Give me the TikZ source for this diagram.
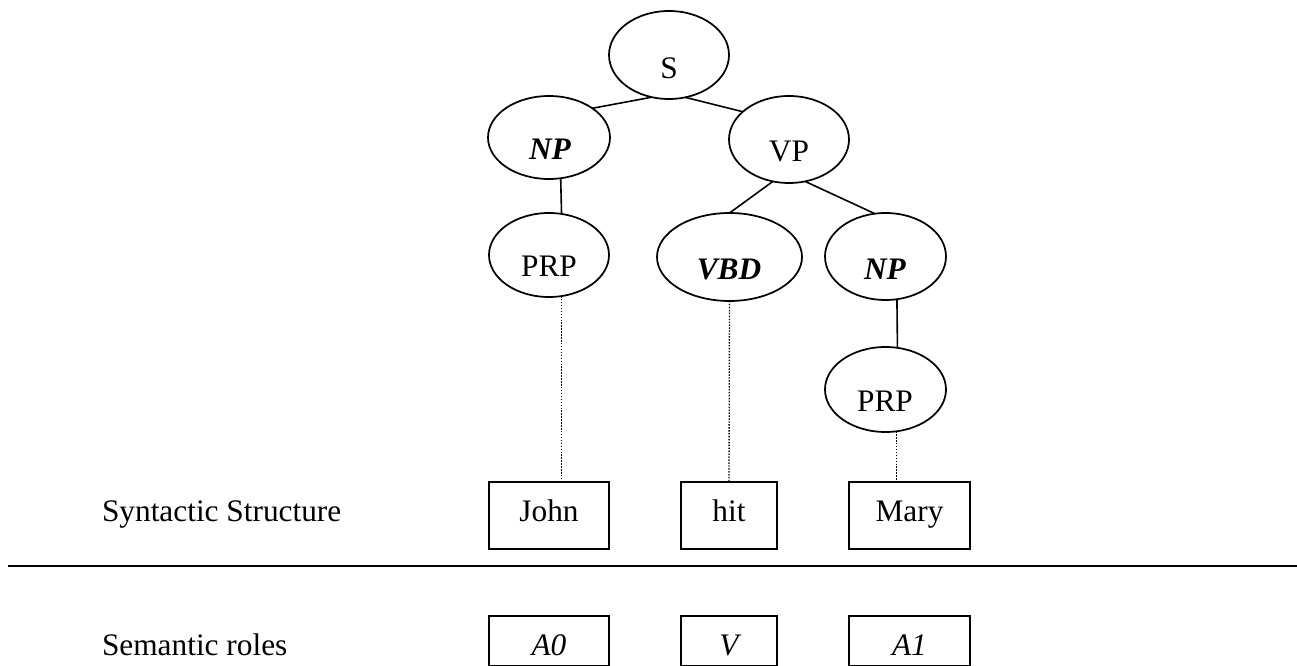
\documentclass[tikz,border=0pt]{standalone}
\usepackage{fontspec}
\setmainfont{Liberation Serif}
\usetikzlibrary{shapes.geometric}
\begin{document}
\begin{tikzpicture}[x=0.75pt,y=-0.75pt,
  every node/.style={outer sep=0pt},
  cat/.style={ellipse,draw,line width=1.3pt,inner sep=0pt},
  wordbox/.style={rectangle,draw,line width=1.4pt,inner sep=0pt},
  txt/.style={anchor=base,inner sep=0pt,font=\fontsize{23.5}{28}\selectfont},
  bi/.style={txt,font=\fontsize{23.5}{28}\selectfont\bfseries\itshape},
  it/.style={txt,font=\fontsize{23.5}{28}\selectfont\itshape},
  edge/.style={line width=1.2pt},
  trace/.style={line width=1pt,dash pattern=on 1.1pt off 1.1pt}]
\useasboundingbox (0,0) rectangle (1297,666);

% constituent ellipses
\node[cat,minimum width=90pt,minimum height=66pt] (S) at (669,55) {};
\node[cat,minimum width=91.5pt,minimum height=62.25pt] (NP) at (549,137.5) {};
\node[cat,minimum width=90pt,minimum height=65.25pt] (VP) at (789,139.5) {};
\node[cat,minimum width=90pt,minimum height=63pt] (PRPa) at (549,255) {};
\node[cat,minimum width=108.75pt,minimum height=66pt] (VBD) at (729.5,257) {};
\node[cat,minimum width=90.75pt,minimum height=65.25pt] (NPb) at (885.5,256.5) {};
\node[cat,minimum width=90.75pt,minimum height=63.75pt] (PRPb) at (885.5,389.5) {};

% category labels
\node[txt] (Slab) at (669,79) {S};
\node[bi] (NPlab) at (550,160) {NP};
\node[txt] (VPlab) at (789,162) {VP};
\node[txt] (PRPalab) at (549,277) {PRP};
\node[bi] (VBDlab) at (729,280) {VBD};
\node[bi] (NPblab) at (885,280) {NP};
\node[txt] (PRPblab) at (885,412) {PRP};

% tree edges
\draw[edge] (S.248) -- (NP.34.7);
\draw[edge] (S.291) -- (VP.149.7);
\draw[edge] (VP.249.4) -- (VBD.north);
\draw[edge] (VP.291.8) -- (NPb.104.8);
\draw[edge] (NP.286.4) -- (PRPa.73.7);
\draw[edge] (NPb.285.1) -- (PRPb.74.6);

% word boxes
\node[wordbox,minimum width=90pt,minimum height=50.25pt] (John) at (549,515.5) {};
\node[wordbox,minimum width=72pt,minimum height=50.25pt] (hit) at (729,515.5) {};
\node[wordbox,minimum width=90.75pt,minimum height=50.25pt] (Mary) at (909.5,515.5) {};
\node[txt] (Johnlab) at (549,522) {John};
\node[txt] (hitlab) at (729,522) {hit};
\node[txt] (Marylab) at (909.5,522) {Mary};

% dotted links from preterminals to words
\draw[trace] (PRPa.287.6) -- (PRPa.287.6 |- John.north);
\draw[trace] (VBD.south) -- (hit.north);
\draw[trace] (PRPb.285) -- (PRPb.285 |- Mary.north);

% separator
\coordinate (rulestart) at (8,566);
\coordinate (ruleend) at (1297,566);
\draw[line width=1.6pt] (rulestart) -- (ruleend);

% role boxes
\node[wordbox,minimum width=90pt,minimum height=37.5pt] (A0) at (549,641) {};
\node[wordbox,minimum width=72pt,minimum height=37.5pt] (V) at (729,641) {};
\node[wordbox,minimum width=90.75pt,minimum height=37.5pt] (A1) at (909.5,641) {};
\node[it] (A0lab) at (549,655) {A0};
\node[it] (Vlab) at (729,655) {V};
\node[it] (A1lab) at (909.5,655) {A1};

% row titles
\node[txt,anchor=base west] (syn) at (102,522) {Syntactic Structure};
\node[txt,anchor=base west] (sem) at (102,655) {Semantic roles};
\end{tikzpicture}
\end{document}
